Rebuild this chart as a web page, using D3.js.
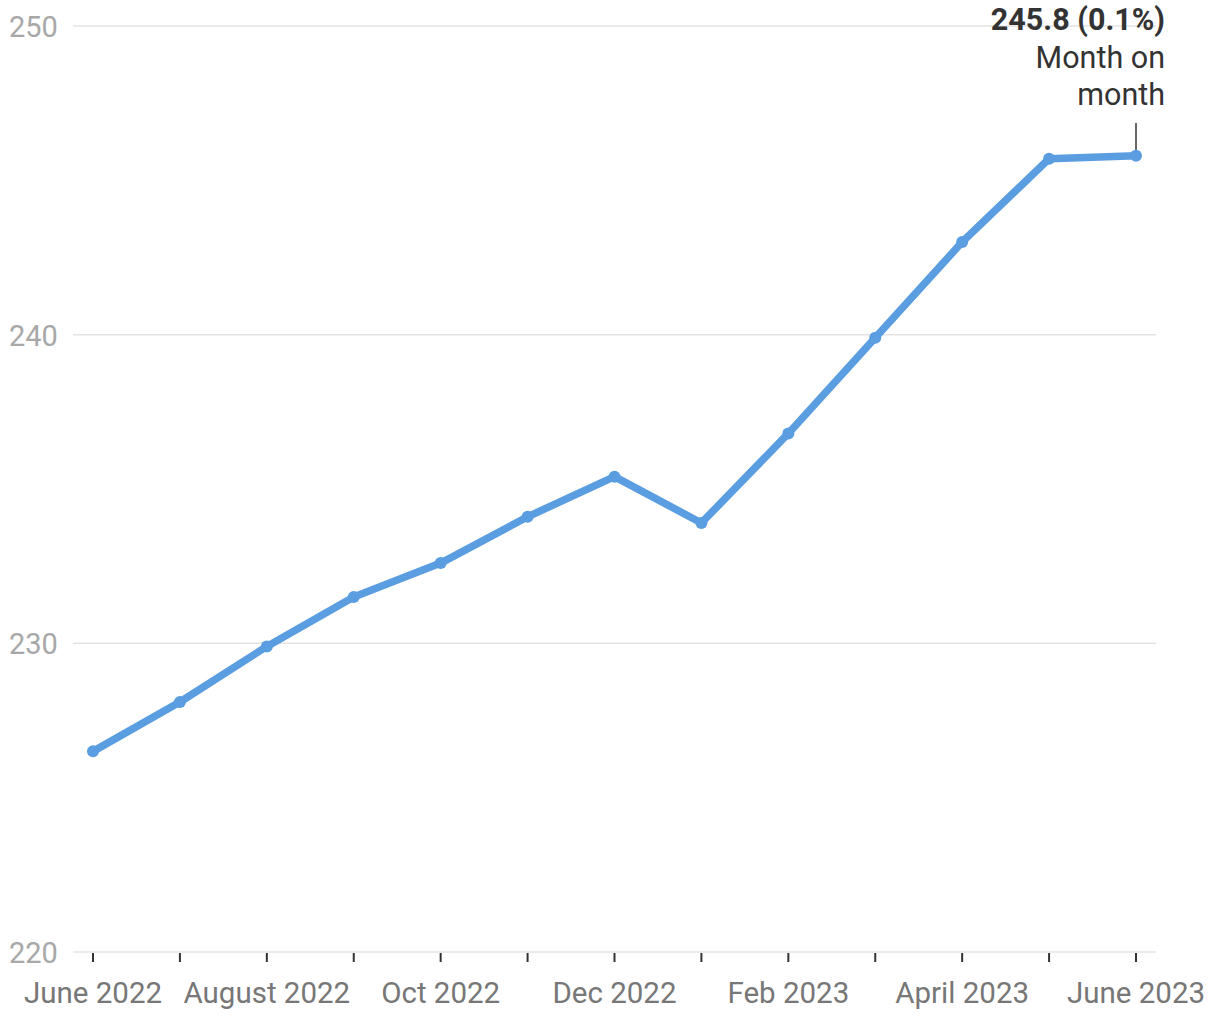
<!DOCTYPE html>
<html>
<head>
  <meta charset="UTF-8">
  <title></title>
  <style>
    body { margin: 0; background: #fff; font-family: 'Roboto', sans-serif; }
    .grid line { stroke: #e3e3e3; stroke-width: 1.5; }
    .ylab { fill: #a8a8a8; font-size: 29px; }
    .xlab { fill: #777; font-size: 29.5px; text-anchor: middle; }
    .tick { stroke: #333; stroke-width: 2; }
    .ann { fill: #333; font-size: 30.5px; text-anchor: end; }
  </style>
</head>
<body>
  <script src="https://d3js.org/d3.v7.min.js"></script>
  <script>
    var months = ["Jun 22","Jul 22","Aug 22","Sep 22","Oct 22","Nov 22","Dec 22",
                  "Jan 23","Feb 23","Mar 23","Apr 23","May 23","Jun 23"];
    var values = [226.5, 228.1, 229.9, 231.5, 232.6, 234.1, 235.4,
                  233.9, 236.8, 239.9, 243.0, 245.7, 245.8];
    var yTicks = [220, 230, 240, 250];
    var xLabels = {"Jun 22": "June 2022", "Aug 22": "August 2022", "Oct 22": "Oct 2022",
                   "Dec 22": "Dec 2022", "Feb 23": "Feb 2023", "Apr 23": "April 2023",
                   "Jun 23": "June 2023"};

    var width = 1220, height = 1020;
    var svg = d3.select("body").append("svg")
        .attr("width", width).attr("height", height);

    var x = d3.scalePoint().domain(months).range([93, 1136]);
    var y = d3.scaleLinear().domain([220, 250]).range([952, 26]);

    // gridlines + y labels
    var grid = svg.append("g").attr("class", "grid");
    grid.selectAll("line").data(yTicks).enter().append("line")
        .attr("x1", 73).attr("x2", 1156)
        .attr("y1", function(d) { return y(d); })
        .attr("y2", function(d) { return y(d); });
    svg.selectAll("text.ylab").data(yTicks).enter().append("text")
        .attr("class", "ylab")
        .attr("x", 9)
        .attr("y", function(d) { return y(d) + 11; })
        .text(function(d) { return d; });

    // x ticks
    svg.selectAll("line.tick").data(months).enter().append("line")
        .attr("class", "tick")
        .attr("x1", function(d) { return x(d); })
        .attr("x2", function(d) { return x(d); })
        .attr("y1", 953).attr("y2", 962);
    svg.selectAll("text.xlab").data(months.filter(function(m) { return xLabels[m]; }))
        .enter().append("text")
        .attr("class", "xlab")
        .attr("x", function(d) { return x(d); })
        .attr("y", 1003)
        .text(function(d) { return xLabels[d]; });

    // annotation
    var last = months[months.length - 1], lastVal = values[values.length - 1];
    svg.append("line")
        .attr("x1", x(last)).attr("x2", x(last))
        .attr("y1", 123).attr("y2", y(lastVal))
        .attr("stroke", "#333").attr("stroke-width", 1.5);
    var ann = svg.append("text").attr("class", "ann").attr("x", 1165);
    ann.append("tspan").attr("x", 1165).attr("y", 30).attr("font-weight", "bold")
        .text(lastVal.toFixed(1) + " (0.1%)");
    ann.append("tspan").attr("x", 1165).attr("y", 68).text("Month on");
    ann.append("tspan").attr("x", 1165).attr("y", 105).text("month");

    // line
    var data = months.map(function(m, i) { return {m: m, v: values[i]}; });
    var line = d3.line().x(function(d) { return x(d.m); }).y(function(d) { return y(d.v); });
    svg.append("path").datum(data)
        .attr("d", line)
        .attr("fill", "none")
        .attr("stroke", "#5a9de0")
        .attr("stroke-width", 7.5)
        .attr("stroke-linejoin", "round");
    svg.selectAll("circle").data(data).enter().append("circle")
        .attr("cx", function(d) { return x(d.m); })
        .attr("cy", function(d) { return y(d.v); })
        .attr("r", 6)
        .attr("fill", "#5a9de0");
  </script>
</body>
</html>
